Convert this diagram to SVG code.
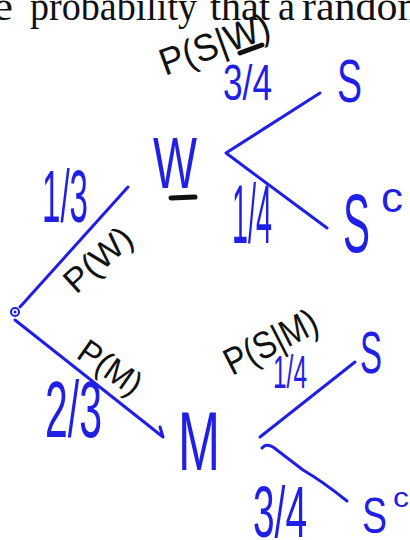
<svg xmlns="http://www.w3.org/2000/svg" width="410" height="540" viewBox="0 0 410 540">
<style>
.hdr{font-family:"Liberation Serif","Times New Roman",serif;font-size:40px;fill:#111}
.b{font-family:"Liberation Sans",Arial,sans-serif;fill:#1f1fe6}
.k{font-family:"Liberation Sans",Arial,sans-serif;fill:#111}
.ln{fill:none;stroke:#1f1fe6;stroke-width:3;stroke-linecap:round;stroke-linejoin:round}
.ul{fill:none;stroke:#111;stroke-width:5;stroke-linecap:round}
</style>
<rect width="410" height="540" fill="#fff"/>
<g id="header">
<text class="hdr" x="-42" y="20" textLength="55" lengthAdjust="spacingAndGlyphs">the</text>
<text class="hdr" x="30" y="20" textLength="167" lengthAdjust="spacingAndGlyphs">probability</text>
<text class="hdr" x="210" y="20" textLength="60" lengthAdjust="spacingAndGlyphs">that</text>
<text class="hdr" x="278" y="20" textLength="17" lengthAdjust="spacingAndGlyphs">a</text>
<text class="hdr" x="302" y="20" textLength="128" lengthAdjust="spacingAndGlyphs">random</text>
</g>
<g id="connectors">
<polyline class="ln" points="20,307 128,187"/>
<polyline class="ln" points="15,320 163,437 160,427"/>
<polyline class="ln" points="320,93 226,153 327,228"/>
<polyline class="ln" points="260,437 355,362"/>
<path class="ln" d="M262,448 Q266,443 273,447 L303,470 Q322,481 347,501"/>
</g>
<g id="root">
<circle cx="15" cy="312" r="4" fill="none" stroke="#1f1fe6" stroke-width="2"/>
<circle cx="15" cy="312" r="1.5" fill="#1f1fe6"/>
</g>
<g id="node-W">
<text class="b" x="153" y="188" font-size="72" textLength="44" lengthAdjust="spacingAndGlyphs">W</text>
<line class="ul" x1="171" y1="198" x2="195" y2="197"/>
</g>
<g id="node-M">
<text class="b" x="178" y="470" font-size="84" textLength="42" lengthAdjust="spacingAndGlyphs">M</text>
</g>
<g id="node-S-W">
<text class="b" x="337" y="102" font-size="61" textLength="25" lengthAdjust="spacingAndGlyphs">S</text>
</g>
<g id="node-Sc-W">
<text class="b" x="343" y="252" font-size="84" textLength="27" lengthAdjust="spacingAndGlyphs">S</text>
<text class="b" x="381" y="212" font-size="42" textLength="22" lengthAdjust="spacingAndGlyphs">c</text>
</g>
<g id="node-S-M">
<text class="b" x="360" y="373" font-size="60" textLength="22" lengthAdjust="spacingAndGlyphs">S</text>
</g>
<g id="node-Sc-M">
<text class="b" x="362" y="533" font-size="50" textLength="25" lengthAdjust="spacingAndGlyphs">S</text>
<text class="b" x="393" y="507" font-size="28" textLength="16" lengthAdjust="spacingAndGlyphs">c</text>
</g>
<g id="labels">
<text class="b" x="223" y="100" font-size="50" textLength="49" lengthAdjust="spacingAndGlyphs">3/4</text>
<text class="b" x="232" y="243" font-size="84" textLength="40" lengthAdjust="spacingAndGlyphs">1/4</text>
<text class="b" x="42" y="222" font-size="75" textLength="46" lengthAdjust="spacingAndGlyphs">1/3</text>
<text class="b" x="45" y="437" font-size="80" textLength="57" lengthAdjust="spacingAndGlyphs">2/3</text>
<text class="b" x="273" y="388" font-size="46" textLength="34" lengthAdjust="spacingAndGlyphs">1/4</text>
<text class="b" x="253" y="537" font-size="72" textLength="54" lengthAdjust="spacingAndGlyphs">3/4</text>
<text class="k" transform="translate(165,76) rotate(-20)" font-size="38" textLength="115" lengthAdjust="spacingAndGlyphs">P(S|W)</text>
<line class="ul" x1="240" y1="53" x2="262" y2="45" stroke-width="4"/>
<text class="k" transform="translate(76,295) rotate(-42)" font-size="34" textLength="80" lengthAdjust="spacingAndGlyphs">P(W)</text>
<text class="k" transform="translate(75,357) rotate(35)" font-size="34" textLength="70" lengthAdjust="spacingAndGlyphs">P(M)</text>
<text class="k" transform="translate(232,376) rotate(-27)" font-size="38" textLength="100" lengthAdjust="spacingAndGlyphs">P(S|M)</text>
</g>
</svg>
